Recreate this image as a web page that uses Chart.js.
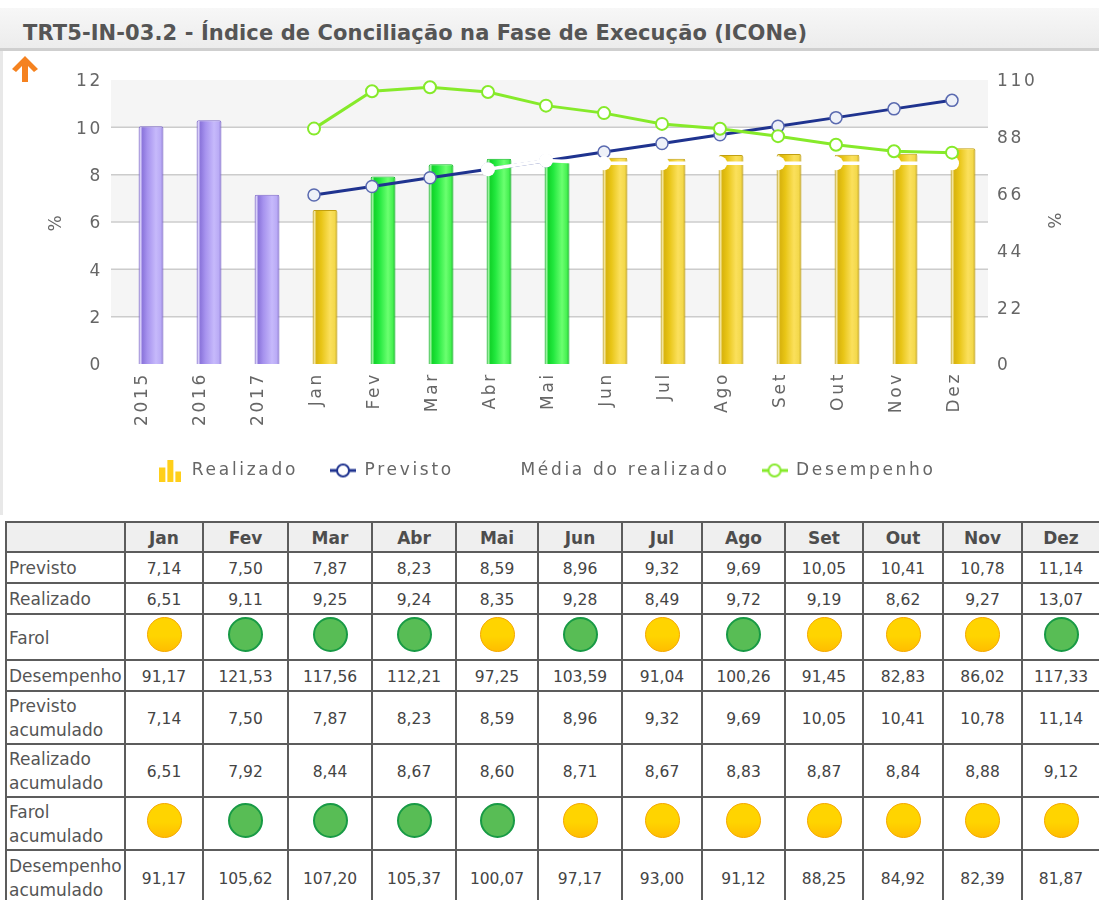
<!DOCTYPE html>
<html lang="pt">
<head>
<meta charset="utf-8">
<title>TRT5-IN-03.2</title>
<script src="https://cdn.jsdelivr.net/npm/chart.js@4"></script>
<style>
    html, body { margin: 0; padding: 0; background: #fff; width: 1099px; height: 900px; overflow: hidden; font-family: "DejaVu Sans", sans-serif; }
    #page { position: relative; width: 1099px; height: 900px; overflow: hidden; }
    #edge { position: absolute; left: 0; top: 8px; width: 3px; height: 507px; background: #e8e8e8; }
    #titleBar { position: absolute; left: 0; top: 8px; width: 1099px; height: 40px; background: linear-gradient(#f7f7f7, #ececec); border-bottom: 3px solid #cfcfcf; }
    #titleBar h1 { margin: 0; position: absolute; left: 23px; top: 12px; font-size: 21px; line-height: 26px; font-weight: bold; letter-spacing: 0.1px; color: #555; white-space: nowrap; }
    #arrow { position: absolute; left: 11px; top: 55px; }
    #chartBox { position: absolute; left: 0; top: 0; width: 1099px; height: 489px; }
    #tabela { position: absolute; left: 5px; top: 521px; border-collapse: collapse; table-layout: fixed; width: 1095px; color: #444; font-size: 15.5px; }
    #tabela td, #tabela th { border: 2px solid #5c5c5c; padding: 2px 0 0 0; text-align: center; overflow: hidden; }
    #tabela th { background: #efefef; font-size: 17px; color: #4d4d4d; }
    #tabela td.rot { text-align: left; padding: 1px 0 0 2px; font-size: 17px; line-height: 24px; color: #555; white-space: nowrap; }
    .farol { display: block; position: relative; top: -4px; width: 35px; height: 35px; border-radius: 50%; margin: 0 auto; box-sizing: border-box; }
    .farol.Y { background: linear-gradient(#ffd400 55%, #ffbe00); border: 1px solid #f5a800; }
    .farol.G { background: #58bd55; border: 2px solid #189a45; }
</style>
</head>
<body>
<div id="page">
    <div id="edge"></div>
    <div id="chartBox"><canvas id="indiceChart" width="1099" height="489"></canvas></div>
    <div id="titleBar"><h1>TRT5-IN-03.2 - Índice de Conciliação na Fase de Execução (ICONe)</h1></div>
    <svg id="arrow" width="28" height="27" viewBox="0 0 28 27"><path d="M14 1 L27 14 L23 17 L17 11 L17 27 L11 27 L11 11 L5 17 L1 14 Z" fill="#f58220"/></svg>
    <table id="tabela"></table>
</div>
<script>
var anos = ['2015', '2016', '2017'];
var meses = ['Jan', 'Fev', 'Mar', 'Abr', 'Mai', 'Jun', 'Jul', 'Ago', 'Set', 'Out', 'Nov', 'Dez'];

var realizadoAnos = [10.05, 10.3, 7.15];
var previsto = [7.14, 7.5, 7.87, 8.23, 8.59, 8.96, 9.32, 9.69, 10.05, 10.41, 10.78, 11.14];
var realizado = [6.51, 9.11, 9.25, 9.24, 8.35, 9.28, 8.49, 9.72, 9.19, 8.62, 9.27, 13.07];
var farol = ['Y', 'G', 'G', 'G', 'Y', 'G', 'Y', 'G', 'Y', 'Y', 'Y', 'G'];
var desempenho = [91.17, 121.53, 117.56, 112.21, 97.25, 103.59, 91.04, 100.26, 91.45, 82.83, 86.02, 117.33];
var previstoAcum = [7.14, 7.5, 7.87, 8.23, 8.59, 8.96, 9.32, 9.69, 10.05, 10.41, 10.78, 11.14];
var realizadoAcum = [6.51, 7.92, 8.44, 8.67, 8.6, 8.71, 8.67, 8.83, 8.87, 8.84, 8.88, 9.12];
var farolAcum = ['Y', 'G', 'G', 'G', 'G', 'Y', 'Y', 'Y', 'Y', 'Y', 'Y', 'Y'];
var desempenhoAcum = [91.17, 105.62, 107.2, 105.37, 100.07, 97.17, 93, 91.12, 88.25, 84.92, 82.39, 81.87];
// the white line only shows where it crosses something, Jan-Mar can't be read
var mediaRealizado = [null, null, null, 8.23, 8.6, 8.48, 8.48, 8.48, 8.48, 8.48, 8.48, 8.48];

var TEXT_COLOR = '#666';
var LETTER_SPACING = '2.7px';
var GRID_OVERHANG = 7;

var barStops = {
    P: ['#7d68c9', '#d9d0fa', '#8c76dc', '#a692ee', '#c6b9fb', '#b9aaf5', '#7d68c9'],
    Y: ['#b8960c', '#f3e6a0', '#d9b40e', '#e8c516', '#fbe05c', '#f3d84a', '#b8960c'],
    G: ['#0da520', '#9cf5a0', '#12d42a', '#22e83e', '#6bff70', '#44f050', '#0da520']
};
var barBorders = { P: '#7d68c9', Y: '#c19f10', G: '#10b825' };

Chart.defaults.font.family = '"DejaVu Sans", sans-serif';
Chart.defaults.font.size = 17;
Chart.defaults.color = TEXT_COLOR;

function padAnos(values) {
    return anos.map(function () { return null; }).concat(values);
}

function barKind(index) {
    if (index < anos.length) return 'P';
    return farolAcum[index - anos.length];
}

function barGradient(context) {
    var chart = context.chart;
    var i = context.dataIndex;
    if (i === undefined || !chart.scales.x) return '#ccc';
    var band = chart.scales.x.getPixelForValue(1) - chart.scales.x.getPixelForValue(0);
    var center = chart.scales.x.getPixelForValue(i) + band * 0.19;
    var half = band * 0.215;
    var stops = barStops[barKind(i)];
    var g = chart.ctx.createLinearGradient(center - half, 0, center + half, 0);
    [0, 0.08, 0.16, 0.35, 0.7, 0.9, 1].forEach(function (pos, k) {
        g.addColorStop(pos, stops[k]);
    });
    return g;
}

function lineIcon(color) {
    var c = document.createElement('canvas');
    c.width = 26;
    c.height = 16;
    var x = c.getContext('2d');
    x.strokeStyle = color;
    x.lineWidth = 3;
    x.beginPath();
    x.moveTo(0, 8);
    x.lineTo(26, 8);
    x.stroke();
    x.fillStyle = '#fff';
    x.lineWidth = 2;
    x.beginPath();
    x.arc(13, 8, 6, 0, Math.PI * 2);
    x.fill();
    x.stroke();
    return c;
}

function barIcon() {
    var c = document.createElement('canvas');
    c.width = 22;
    c.height = 22;
    var x = c.getContext('2d');
    x.fillStyle = '#ffcf1a';
    x.fillRect(0, 8, 6, 14);
    x.fillRect(8, 0, 6, 22);
    x.fillRect(16, 12, 6, 10);
    return c;
}

function blankIcon() {
    var c = document.createElement('canvas');
    c.width = 26;
    c.height = 16;
    return c;
}

var legendIcons = {
    Realizado: barIcon(),
    Previsto: lineIcon('#1f338f'),
    'Média do realizado': blankIcon(),
    Desempenho: lineIcon('#86ea2a')
};

// bands and grid run a little past the last category, like the original
var plotBackground = {
    id: 'plotBackground',
    beforeDatasetsDraw: function (chart) {
        var ctx = chart.ctx;
        var area = chart.chartArea;
        var y = chart.scales.y;
        var right = area.right + GRID_OVERHANG;
        ctx.save();
        ctx.fillStyle = '#f5f5f5';
        [[10, 12], [6, 8], [2, 4]].forEach(function (band) {
            var top = y.getPixelForValue(band[1]);
            ctx.fillRect(area.left, top, right - area.left, y.getPixelForValue(band[0]) - top);
        });
        ctx.strokeStyle = '#cccccc';
        ctx.lineWidth = 1.5;
        [2, 4, 6, 8, 10].forEach(function (v) {
            var py = y.getPixelForValue(v);
            ctx.beginPath();
            ctx.moveTo(area.left, py);
            ctx.lineTo(right, py);
            ctx.stroke();
        });
        ctx.restore();
    }
};

var wideText = {
    id: 'wideText',
    beforeUpdate: function (chart) { chart.ctx.letterSpacing = LETTER_SPACING; },
    beforeDraw: function (chart) { chart.ctx.letterSpacing = LETTER_SPACING; }
};

function generate_chart() {
    var ctx = document.getElementById('indiceChart').getContext('2d');
    new Chart(ctx, {
        data: {
            labels: anos.concat(meses),
            datasets: [
                // empty slot, pushes the bars to the right of the category centre
                {
                    type: 'bar',
                    label: '',
                    data: [],
                    order: 5,
                    categoryPercentage: 0.76,
                    barPercentage: 1.13
                },
                {
                    type: 'bar',
                    label: 'Realizado',
                    data: realizadoAnos.concat(realizadoAcum),
                    backgroundColor: barGradient,
                    borderColor: function (c) { return barBorders[barKind(c.dataIndex)]; },
                    borderWidth: 1,
                    borderRadius: { topLeft: 2, topRight: 2 },
                    borderSkipped: 'bottom',
                    order: 5,
                    categoryPercentage: 0.76,
                    barPercentage: 1.13
                },
                {
                    type: 'line',
                    label: 'Previsto',
                    data: padAnos(previsto),
                    borderColor: '#1f338f',
                    borderWidth: 3,
                    pointRadius: 6,
                    pointBorderWidth: 1.5,
                    pointBorderColor: '#5a6ab0',
                    pointBackgroundColor: '#eef1f8',
                    order: 3,
                    clip: false
                },
                {
                    type: 'line',
                    label: 'Média do realizado',
                    data: padAnos(mediaRealizado),
                    borderColor: '#ffffff',
                    borderWidth: 3.5,
                    pointRadius: 7,
                    pointBorderWidth: 0,
                    pointBackgroundColor: '#ffffff',
                    order: 2,
                    clip: false
                },
                {
                    type: 'line',
                    label: 'Desempenho',
                    data: padAnos(desempenhoAcum),
                    yAxisID: 'y1',
                    borderColor: '#86ea2a',
                    borderWidth: 3,
                    pointRadius: 6,
                    pointBorderWidth: 2,
                    pointBorderColor: '#86ea2a',
                    pointBackgroundColor: '#ffffff',
                    order: 1,
                    clip: false
                }
            ]
        },
        options: {
            responsive: false,
            animation: false,
            layout: { autoPadding: false, padding: { top: 80, left: 30, right: 36, bottom: 0 } },
            plugins: {
                tooltip: { enabled: false },
                legend: {
                    position: 'bottom',
                    labels: {
                        padding: 32,
                        usePointStyle: true,
                        pointStyleWidth: 26,
                        color: TEXT_COLOR,
                        generateLabels: function (chart) {
                            return chart.data.datasets.filter(function (ds) {
                                return ds.label !== '';
                            }).map(function (ds) {
                                return {
                                    text: ds.label,
                                    pointStyle: legendIcons[ds.label],
                                    fontColor: TEXT_COLOR,
                                    lineWidth: 0,
                                    hidden: false
                                };
                            });
                        }
                    }
                }
            },
            scales: {
                x: {
                    grid: { display: false },
                    border: { display: false },
                    afterFit: function (s) { s.height = 66; },
                    ticks: {
                        color: TEXT_COLOR,
                        minRotation: 90,
                        maxRotation: 90,
                        padding: 0,
                        labelOffset: 3,
                        autoSkip: false
                    }
                },
                y: {
                    min: 0,
                    max: 12,
                    position: 'left',
                    grid: { display: false },
                    border: { display: false },
                    afterFit: function (s) { s.width = 81; },
                    title: { display: true, text: '%', color: TEXT_COLOR, padding: { top: 16, bottom: 0 } },
                    ticks: { stepSize: 2, color: TEXT_COLOR, padding: 0, labelOffset: 2 }
                },
                y1: {
                    min: 0,
                    max: 110,
                    position: 'right',
                    grid: { display: false },
                    border: { display: false },
                    afterFit: function (s) { s.width = 82; },
                    title: { display: true, text: '%', color: TEXT_COLOR, padding: 0 },
                    ticks: { stepSize: 22, color: TEXT_COLOR, padding: 8, labelOffset: 2 }
                }
            }
        },
        plugins: [wideText, plotBackground]
    });
}

function fmt(v) {
    return v.toFixed(2).replace('.', ',');
}

function numberCells(values) {
    return values.map(function (v) { return '<td>' + fmt(v) + '</td>'; }).join('');
}

function farolCells(values) {
    return values.map(function (v) { return '<td><span class="farol ' + v + '"></span></td>'; }).join('');
}

function generate_table() {
    var colWidths = [119, 78, 85, 84, 84, 82, 84, 80, 83, 78, 80, 79, 78];
    var rows = [
        [30, '', null],
        [31, 'Previsto', numberCells(previsto)],
        [31, 'Realizado', numberCells(realizado)],
        [46, 'Farol', farolCells(farol)],
        [31, 'Desempenho', numberCells(desempenho)],
        [53, 'Previsto<br>acumulado', numberCells(previstoAcum)],
        [53, 'Realizado<br>acumulado', numberCells(realizadoAcum)],
        [53, 'Farol<br>acumulado', farolCells(farolAcum)],
        [55, 'Desempenho<br>acumulado', numberCells(desempenhoAcum)]
    ];
    var html = '<colgroup>' + colWidths.map(function (w) {
        return '<col style="width:' + w + 'px">';
    }).join('') + '</colgroup>';
    html += '<tr style="height:' + rows[0][0] + 'px"><th></th>' + meses.map(function (m) {
        return '<th>' + m + '</th>';
    }).join('') + '</tr>';
    rows.slice(1).forEach(function (r) {
        html += '<tr style="height:' + r[0] + 'px"><td class="rot">' + r[1] + '</td>' + r[2] + '</tr>';
    });
    document.getElementById('tabela').innerHTML = html;
}

document.addEventListener('DOMContentLoaded', function () {
    generate_table();
    generate_chart();
});
</script>
</body>
</html>
